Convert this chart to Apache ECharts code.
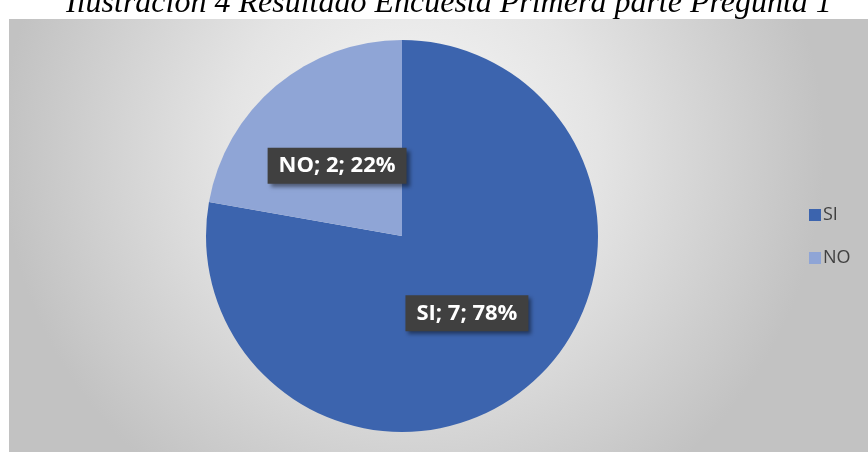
<!DOCTYPE html>
<html>
<head>
<meta charset="utf-8">
<script src="https://cdn.jsdelivr.net/npm/echarts@6/dist/echarts.min.js"></script>
<style>
  html, body { margin: 0; padding: 0; background: #fff; }
  #chart { width: 868px; height: 452px; }
</style>
</head>
<body>
<div id="chart"></div>
<script>
// datos de la encuesta
const categories = ["SI", "NO"];
const counts = [7, 2];
const sliceColors = ["#3C64AE", "#8FA5D6"];
const titleText = "Ilustración 4 Resultado Encuesta Primera parte Pregunta 1";

const chart = echarts.init(document.getElementById("chart"));

const total = counts.reduce((a, b) => a + b, 0);

chart.setOption({
  animation: false,
  title: {
    text: titleText,
    left: 61,
    top: -17,
    textStyle: {
      fontFamily: "Liberation Serif",
      fontStyle: "italic",
      fontWeight: "normal",
      fontSize: 32,
      color: "#000"
    }
  },
  // panel gris con degradado
  graphic: [
    {
      type: "rect",
      z: -10,
      silent: true,
      shape: { x: 9, y: 19, width: 859, height: 433 },
      style: {
        fill: {
          type: "radial", x: 0.47, y: 0.3, r: 0.95,
          colorStops: [
            { offset: 0, color: "#f7f7f7" },
            { offset: 0.45, color: "#e4e4e4" },
            { offset: 1, color: "#c2c2c2" }
          ]
        }
      }
    }
  ],
  legend: {
    orient: "vertical",
    left: 804,
    top: 201,
    itemWidth: 12,
    itemHeight: 12,
    itemGap: 25,
    icon: "rect",
    textStyle: { fontFamily: "Open Sans", fontSize: 18, color: "#404040", padding: [0, 0, 0, -3] },
    data: categories
  },
  series: [
    {
      type: "pie",
      center: [402, 236],
      radius: [0, 196],
      startAngle: 90,
      clockwise: true,
      color: sliceColors,
      label: {
        show: true,
        position: "inside",
        formatter: (p) => p.name + "; " + p.value + "; " + Math.round(p.value / total * 100) + "%",
        fontFamily: "Open Sans",
        fontWeight: "bold",
        fontSize: 22,
        color: "#fff",
        backgroundColor: "#404040",
        padding: [7, 11, 7, 11],
        shadowColor: "rgba(0,0,0,0.45)",
        shadowBlur: 4,
        shadowOffsetX: 3,
        shadowOffsetY: 3
      },
      labelLine: { show: false },
      emphasis: { disabled: true },
      data: categories.map((c, i) => ({
        name: c,
        value: counts[i],
        label: i === 1 ? { offset: [0, 7] } : {}
      }))
    }
  ]
});
</script>
</body>
</html>
